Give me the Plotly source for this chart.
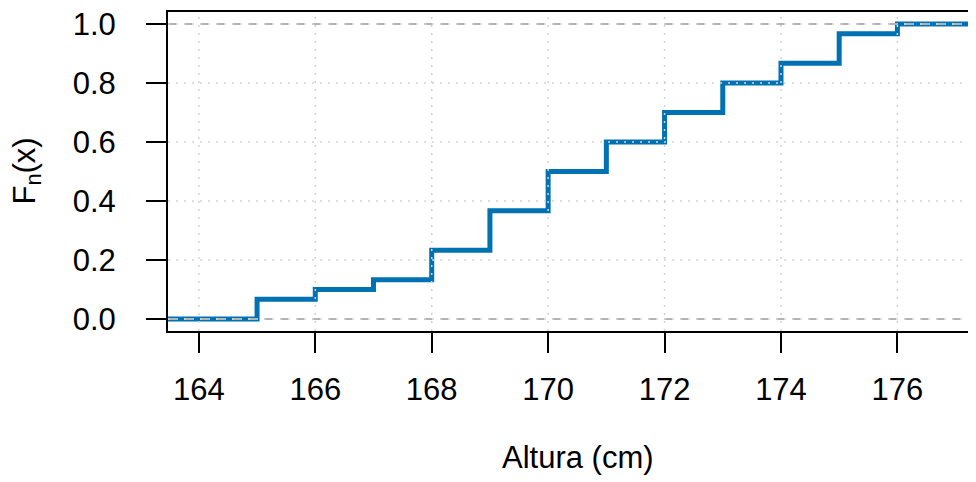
import plotly.graph_objects as go

# ECDF data: jump points (cm) and cumulative proportion Fn(x)
alturas = [165, 166, 167, 168, 169, 170, 171, 172, 173, 174, 175, 176]
fn_vals = [2/30, 3/30, 4/30, 7/30, 11/30, 15/30, 18/30, 21/30, 24/30, 26/30, 29/30, 30/30]

x_ticks = [164, 166, 168, 170, 172, 174, 176]
y_ticks = [0.0, 0.2, 0.4, 0.6, 0.8, 1.0]
y_tick_text = ["0.0", "0.2", "0.4", "0.6", "0.8", "1.0"]

x_title = "Altura (cm)"
y_title = "F<sub>n</sub>(x)"

BLUE = "#0072B2"
FONT = "Liberation Sans"
FS = 31

# step function with tails extending past the view
xs = [alturas[0] - 3] + alturas + [alturas[-1] + 3]
ys = [0.0] + fn_vals + [fn_vals[-1]]

fig = go.Figure()
fig.add_trace(go.Scatter(
    x=xs, y=ys, mode="lines", line=dict(color=BLUE, width=5, shape="hv"),
    hoverinfo="skip", showlegend=False,
))

shapes = []
# horizontal reference lines at 0 and 1 (gray70 dashed), drawn above the step
for h in [0.0, 1.0]:
    shapes.append(dict(type="line", xref="paper", x0=0, x1=1, yref="y", y0=h, y1=h,
                       line=dict(color="#B3B3B3", width=2, dash="8px,8px"), layer="above"))
# dotted light gray grid, drawn above
for xv in x_ticks:
    shapes.append(dict(type="line", xref="x", x0=xv, x1=xv, yref="paper", y0=0, y1=1,
                       line=dict(color="#D3D3D3", width=1.5, dash="2px,6px"), layer="above"))
for yv in y_ticks:
    shapes.append(dict(type="line", xref="paper", x0=0, x1=1, yref="y", y0=yv, y1=yv,
                       line=dict(color="#D3D3D3", width=1.5, dash="2px,6px"), layer="above"))

# the page body has an 8px margin, so the figure is sized to fill the rest of the window
fig.update_layout(
    template="none",
    width=968, height=474,
    margin=dict(l=160, r=0, t=4, b=151, pad=0, autoexpand=False),
    plot_bgcolor="white", paper_bgcolor="white",
    font=dict(family=FONT, size=FS, color="black"),
    shapes=shapes,
    xaxis=dict(
        range=[163.47, 177.35], tickmode="array", tickvals=x_ticks,
        ticktext=[str(v) for v in x_ticks], automargin=False,
        showgrid=False, zeroline=False,
        showline=True, linecolor="black", linewidth=2, mirror=True,
        ticks="outside", ticklen=20, tickwidth=2, tickcolor="black",
        ticklabelstandoff=10, ticklabeloverflow="allow",
        tickfont=dict(family=FONT, size=FS, color="black"),
    ),
    yaxis=dict(
        range=[-0.0407, 1.0407], tickmode="array", tickvals=y_ticks, ticktext=y_tick_text,
        automargin=False,
        showgrid=False, zeroline=False,
        showline=True, linecolor="black", linewidth=2, mirror=False,
        ticks="outside", ticklen=20, tickwidth=2, tickcolor="black",
        ticklabelstandoff=24, ticklabeloverflow="allow",
        tickfont=dict(family=FONT, size=FS, color="black"),
    ),
    annotations=[
        dict(text=x_title, xref="paper", yref="paper", x=0.5074, y=-0.395,
             xanchor="center", yanchor="middle", showarrow=False,
             font=dict(family=FONT, size=FS, color="black")),
        dict(text=y_title, xref="paper", yref="paper", x=-0.1757, y=0.5,
             xanchor="center", yanchor="middle", showarrow=False, textangle=-90,
             font=dict(family=FONT, size=FS, color="black")),
    ],
)

fig.write_html("out.html")
